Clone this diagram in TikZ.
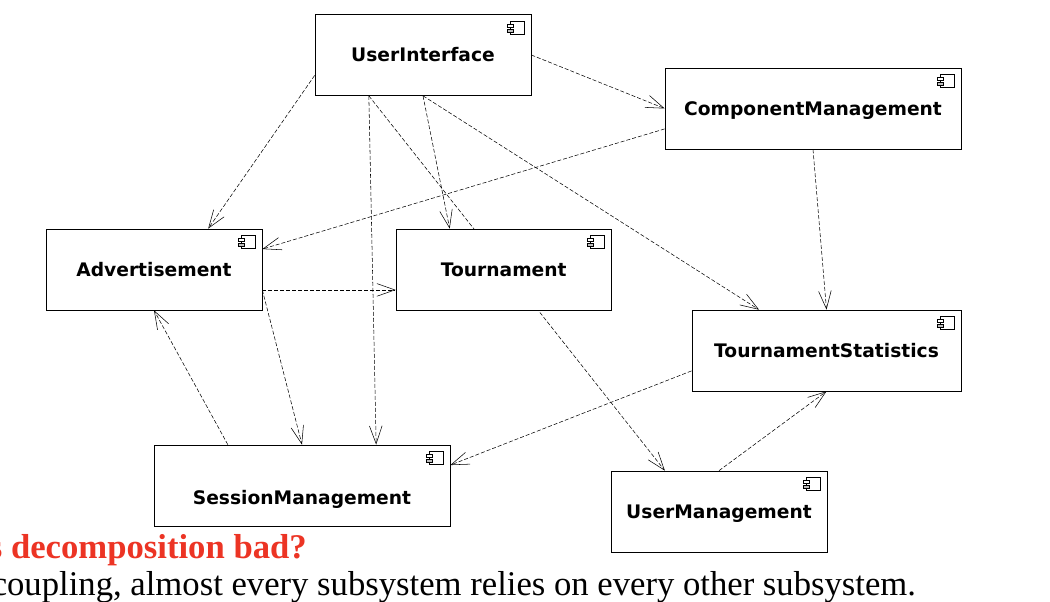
\documentclass[tikz,border=0pt]{standalone}
\usepackage{fontspec}
\usepackage{xcolor}
\setmainfont{Liberation Serif}
\newfontfamily\boxfont{DejaVu Sans}
\usetikzlibrary{arrows.meta,calc}
\definecolor{headred}{RGB}{236,52,36}
\pgfdeclarelayer{behind}
\pgfsetlayers{behind,main}
\tikzset{
  comp/.style={draw,fill=white,line width=.5pt,minimum height=60.75pt,inner sep=0pt,text height=12.6pt,text depth=2.4pt,font=\boxfont\bfseries\fontsize{14}{16}\selectfont},
  dep/.style={draw,line width=.4pt,dash pattern=on 3pt off 1.5pt,-{Straight Barb[length=13.5pt,width=9.5pt,line width=.4pt]}},
  slide/.style={font=\fontsize{26}{30}\selectfont,inner sep=0pt}
}
\begin{document}
\begin{tikzpicture}[x=.75pt,y=-.75pt]
\useasboundingbox (0,0) rectangle (1050,602);
\node [comp,minimum width=162pt] (ui) at (423,55) {UserInterface};
\node [comp,minimum width=222pt] (cm) at (813,108.5) {ComponentManagement};
\node [comp,minimum width=162pt] (ad) at (154,269.5) {Advertisement};
\node [comp,minimum width=161.5pt] (to) at (503.7,269.5) {Tournament};
\node [comp,minimum width=202pt] (ts) at (826.5,350.5) {TournamentStatistics};
\node [comp,minimum width=222pt] (sm) at (302,485.5) {\raisebox{-9.4pt}{SessionManagement}};
\node [comp,minimum width=162pt] (um) at (719,511.5) {UserManagement};

% component icons
\foreach \n in {ui,cm,ad,to,ts,sm,um} {
  \draw [line width=.4pt] ([shift={(-21,7)}]\n.north east) rectangle ([shift={(-7,20)}]\n.north east);
  \draw [line width=.4pt,fill=white] ([shift={(-24,10)}]\n.north east) rectangle ([shift={(-18,13)}]\n.north east);
  \draw [line width=.4pt,fill=gray!50] ([shift={(-24,15)}]\n.north east) rectangle ([shift={(-18,18)}]\n.north east);
}

\begin{pgfonlayer}{behind}
\draw [dep] ($(ui.north west)!.75!(ui.south west)$) -- ($(ad.north)!.5!(ad.north east)$);
\draw [dep] (ui.east) -- (cm.west);
\draw [dep] ($(ui.south)!.5!(ui.south west)$) -- ($(sm.north)!.5!(sm.north east)$);
\draw [dep] ($(ui.south)!.5!(ui.south west)$) -- ($(um.north)!.5!(um.north west)$);
\draw [dep] (ui.south) -- ($(to.north)!.5!(to.north west)$);
\draw [dep] (ui.south) -- ($(ts.north)!.5!(ts.north west)$);
\draw [dep] ($(cm.west)!.5!(cm.south west)$) -- ($(ad.east)!.5!(ad.north east)$);
\draw [dep] (cm.south) -- (ts.north);
\draw [dep] ($(ad.east)!.5!(ad.south east)$) -- ($(to.west)!.5!(to.south west)$);
\draw [dep] ($(ad.east)!.5!(ad.south east)$) -- (sm.north);
\draw [dep] ($(sm.north)!.5!(sm.north west)$) -- (ad.south);
\draw [dep] ($(ts.west)!.5!(ts.south west)$) -- ($(sm.east)!.5!(sm.north east)$);
\draw [dep] (um.north) -- (ts.south);
\end{pgfonlayer}

\node [slide,anchor=base east,text=headred,font=\bfseries\fontsize{26}{30}\selectfont] (why) at (307,558) {s decomposition bad?};
\node [slide,anchor=base west] (why2) at (-8.5,595.5) {coupling, almost every subsystem relies on every other subsystem.};
\end{tikzpicture}
\end{document}
